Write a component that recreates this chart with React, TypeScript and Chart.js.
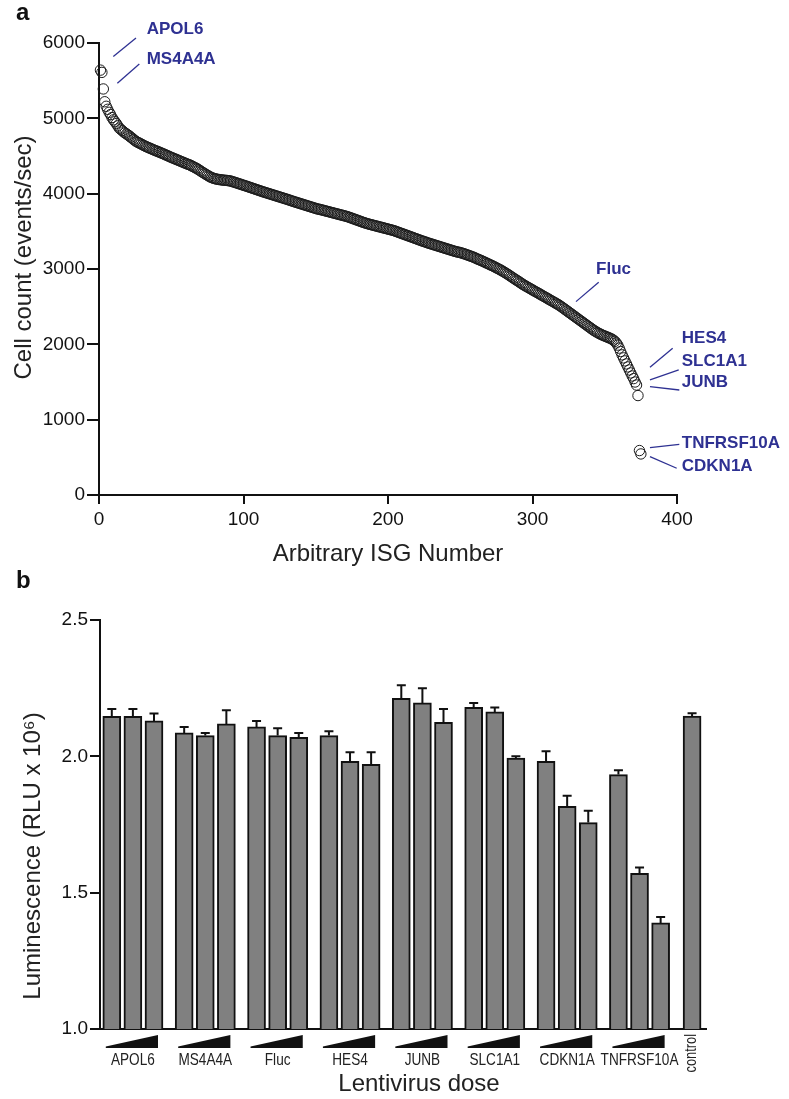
import React, { useEffect, useRef } from 'react';
import { Chart, registerables } from 'chart.js';

Chart.register(...registerables);

// ---------- Panel a: cell counts per ISG (sorted) ----------
const isgCellCounts: number[] = [
  5640, 5610, 5390, 5220, 5160, 5120, 5080, 5050, 5010, 4980,
  4955, 4930, 4900, 4870, 4855, 4838, 4820, 4806, 4793, 4780,
  4765, 4750, 4735, 4718, 4703, 4690, 4680, 4670, 4661, 4650,
  4640, 4630, 4622, 4613, 4605, 4597, 4588, 4580, 4572, 4565,
  4557, 4549, 4541, 4533, 4525, 4516, 4508, 4499, 4490, 4482,
  4474, 4466, 4458, 4450, 4442, 4434, 4426, 4418, 4410, 4402,
  4394, 4387, 4380, 4370, 4360, 4350, 4340, 4330, 4318, 4305,
  4292, 4280, 4268, 4256, 4244, 4233, 4222, 4213, 4206, 4200,
  4195, 4191, 4188, 4185, 4182, 4180, 4178, 4176, 4174, 4172,
  4168, 4162, 4156, 4150, 4144, 4137, 4131, 4125, 4118, 4112,
  4106, 4100, 4093, 4087, 4080, 4074, 4067, 4061, 4054, 4048,
  4041, 4035, 4028, 4022, 4016, 4010, 4004, 3998, 3992, 3986,
  3980, 3974, 3968, 3962, 3956, 3950, 3944, 3938, 3932, 3926,
  3920, 3913, 3907, 3900, 3894, 3888, 3882, 3876, 3870, 3864,
  3858, 3852, 3846, 3840, 3834, 3828, 3822, 3816, 3810, 3804,
  3798, 3794, 3790, 3785, 3780, 3775, 3770, 3765, 3760, 3755,
  3750, 3745, 3740, 3735, 3730, 3725, 3720, 3715, 3710, 3705,
  3700, 3694, 3688, 3681, 3674, 3667, 3660, 3653, 3646, 3639,
  3632, 3625, 3618, 3612, 3606, 3600, 3595, 3590, 3585, 3580,
  3575, 3570, 3565, 3560, 3555, 3550, 3545, 3540, 3535, 3530,
  3525, 3520, 3515, 3510, 3503, 3496, 3489, 3482, 3475, 3468,
  3461, 3454, 3447, 3440, 3433, 3426, 3419, 3412, 3405, 3398,
  3391, 3384, 3377, 3370, 3364, 3358, 3350, 3344, 3338, 3332,
  3326, 3320, 3314, 3308, 3302, 3296, 3290, 3284, 3278, 3272,
  3266, 3260, 3254, 3248, 3242, 3236, 3231, 3226, 3222, 3218,
  3212, 3206, 3200, 3193, 3186, 3179, 3172, 3165, 3158, 3151,
  3140, 3132, 3124, 3116, 3108, 3099, 3090, 3081, 3072, 3063,
  3054, 3045, 3036, 3026, 3016, 3006, 2996, 2986, 2975, 2964,
  2952, 2940, 2928, 2915, 2902, 2889, 2876, 2863, 2851, 2839,
  2826, 2813, 2800, 2788, 2777, 2766, 2755, 2744, 2733, 2722,
  2711, 2700, 2690, 2679, 2668, 2657, 2646, 2635, 2624, 2613,
  2602, 2591, 2580, 2569, 2558, 2547, 2536, 2525, 2512, 2499,
  2485, 2471, 2457, 2443, 2429, 2415, 2401, 2387, 2373, 2359,
  2345, 2331, 2317, 2303, 2289, 2275, 2261, 2247, 2233, 2219,
  2205, 2191, 2179, 2167, 2156, 2145, 2135, 2126, 2118, 2110,
  2102, 2094, 2086, 2078, 2068, 2055, 2040, 2018, 1990, 1950,
  1905, 1860, 1820, 1780, 1740, 1700, 1660, 1620, 1580, 1545,
  1500, 1460, 1320, 590, 545,
];
const isgAxisTicks = [0, 100, 200, 300, 400];
const countAxisTicks = [0, 1000, 2000, 3000, 4000, 5000, 6000];

// label text anchor and leader line, in data units of panel a
const isgAnnotationLabels = ['APOL6', 'MS4A4A', 'Fluc', 'HES4', 'SLC1A1', 'JUNB', 'TNFRSF10A', 'CDKN1A'];
const isgAnnotationText: [number, number][] = [
  [33, 6186], [33, 5790], [344, 3001], [403.3, 2081], [403.3, 1780], [403.3, 1491], [403.3, 680], [403.3, 376],
];
const isgAnnotationLines: [number, number, number, number][] = [
  [9.9, 5821, 25.6, 6065],
  [12.7, 5467, 27.9, 5720],
  [330.1, 2567, 345.8, 2825],
  [381.3, 1696, 397, 1948],
  [381.3, 1527, 401.2, 1660],
  [381.3, 1438, 401.6, 1394],
  [381.3, 628, 401.6, 673],
  [381.3, 509, 399.8, 355],
];

// ---------- Panel b: luminescence per lentivirus dose ----------
const geneGroups = ['APOL6', 'MS4A4A', 'Fluc', 'HES4', 'JUNB', 'SLC1A1', 'CDKN1A', 'TNFRSF10A'];
const doseMeans: number[][] = [
  [2.147, 2.147, 2.130],
  [2.086, 2.076, 2.119],
  [2.108, 2.076, 2.070],
  [2.076, 1.982, 1.971],
  [2.213, 2.196, 2.125],
  [2.180, 2.163, 1.994],
  [1.982, 1.817, 1.757],
  [1.933, 1.571, 1.389],
];
const doseErrors: number[][] = [
  [0.027, 0.027, 0.027],
  [0.022, 0.010, 0.050],
  [0.022, 0.027, 0.016],
  [0.016, 0.033, 0.044],
  [0.048, 0.054, 0.049],
  [0.016, 0.016, 0.006],
  [0.037, 0.038, 0.043],
  [0.016, 0.021, 0.022],
];
const controlLabel = 'control';
const controlMean = 2.148;
const controlError = 0.010;
const lumTicks = [1.0, 1.5, 2.0, 2.5];

// layout constants (bar slot units)
const GROUP_STRIDE = 3.43;
const CONTROL_X = 27.5;

const SANS = "'Liberation Sans', Arial, Helvetica, sans-serif";
const BLUE = '#2e3192';
const INK = '#111';
const CONDENSE = 0.8;

export default function App() {
  const refA = useRef<HTMLCanvasElement | null>(null);
  const refB = useRef<HTMLCanvasElement | null>(null);

  useEffect(() => {
    const annotateA = {
      id: 'annotateA',
      afterDraw(chart: any) {
        const { ctx, scales, chartArea } = chart;
        const x = scales.x;
        const y = scales.y;
        ctx.save();
        ctx.strokeStyle = BLUE;
        ctx.fillStyle = BLUE;
        ctx.lineWidth = 1.3;
        ctx.font = `bold 17px ${SANS}`;
        ctx.textAlign = 'left';
        ctx.textBaseline = 'middle';
        isgAnnotationLabels.forEach((label, k) => {
          const l = isgAnnotationLines[k];
          ctx.beginPath();
          ctx.moveTo(x.getPixelForValue(l[0]), y.getPixelForValue(l[1]));
          ctx.lineTo(x.getPixelForValue(l[2]), y.getPixelForValue(l[3]));
          ctx.stroke();
          const t = isgAnnotationText[k];
          ctx.fillText(label, x.getPixelForValue(t[0]), y.getPixelForValue(t[1]));
        });
        ctx.fillStyle = '#222';
        ctx.font = `24px ${SANS}`;
        ctx.textAlign = 'center';
        ctx.fillText('Arbitrary ISG Number', (chartArea.left + chartArea.right) / 2, chartArea.bottom + 59);
        ctx.save();
        ctx.translate(24, 257.5);
        ctx.rotate(-Math.PI / 2);
        ctx.fillText('Cell count (events/sec)', 0, 0);
        ctx.restore();
        ctx.fillStyle = INK;
        ctx.font = `bold 24px ${SANS}`;
        ctx.textAlign = 'left';
        ctx.textBaseline = 'alphabetic';
        ctx.fillText('a', 16, 19.5);
        ctx.fillText('b', 16, 588);
        ctx.restore();
      },
    };

    const chartA = new Chart(refA.current as HTMLCanvasElement, {
      type: 'scatter',
      data: {
        datasets: [
          {
            data: isgCellCounts.map((v, i) => ({ x: i + 1, y: v })),
            pointRadius: 5.2,
            pointHoverRadius: 5.2,
            pointBorderWidth: 1,
            pointBorderColor: '#1a1a1a',
            pointBackgroundColor: 'rgba(255,255,255,0)',
            showLine: false,
            clip: false as any,
          },
        ],
      },
      options: {
        responsive: false,
        animation: false,
        events: [],
        layout: { padding: { left: 0, top: 43, right: 112, bottom: 0 } },
        plugins: { legend: { display: false }, tooltip: { enabled: false } },
        scales: {
          x: {
            type: 'linear',
            min: 0,
            max: 400,
            afterFit: (s: any) => { s.height = 105; },
            afterBuildTicks: (s: any) => { s.ticks = isgAxisTicks.map((v) => ({ value: v })); },
            ticks: { font: { family: SANS, size: 19 }, color: INK, padding: 4, maxRotation: 0, callback: (v: any) => String(v) },
            grid: { display: true, drawOnChartArea: false, drawTicks: true, tickLength: 9, color: INK, lineWidth: 2 },
            border: { display: true, color: INK, width: 2 },
          },
          y: {
            type: 'linear',
            min: 0,
            max: 6000,
            afterFit: (s: any) => { s.width = 99; },
            afterBuildTicks: (s: any) => { s.ticks = countAxisTicks.map((v) => ({ value: v })); },
            ticks: { font: { family: SANS, size: 19 }, color: INK, padding: 2, callback: (v: any) => String(v) },
            grid: { display: true, drawOnChartArea: false, drawTicks: true, tickLength: 12, color: INK, lineWidth: 2 },
            border: { display: true, color: INK, width: 2 },
          },
        },
      },
      plugins: [annotateA],
    } as any);

    const barEntries: { x: number; y: number; err: number }[] = [];
    geneGroups.forEach((_, gi) => {
      doseMeans[gi].forEach((m, di) => {
        barEntries.push({ x: gi * GROUP_STRIDE + di, y: m, err: doseErrors[gi][di] });
      });
    });
    barEntries.push({ x: CONTROL_X, y: controlMean, err: controlError });

    const decorateB = {
      id: 'decorateB',
      afterDatasetsDraw(chart: any) {
        const { ctx, scales } = chart;
        const y = scales.y;
        const meta = chart.getDatasetMeta(0);
        ctx.save();
        ctx.strokeStyle = INK;
        ctx.lineWidth = 2;
        meta.data.forEach((el: any, k: number) => {
          const e = barEntries[k];
          const top = y.getPixelForValue(e.y + e.err);
          ctx.beginPath();
          ctx.moveTo(el.x, el.y);
          ctx.lineTo(el.x, top);
          ctx.moveTo(el.x - 4.5, top);
          ctx.lineTo(el.x + 4.5, top);
          ctx.stroke();
        });
        ctx.restore();
      },
      afterDraw(chart: any) {
        const { ctx, scales, chartArea } = chart;
        const x = scales.x;
        const base = chartArea.bottom;
        ctx.save();
        geneGroups.forEach((g, gi) => {
          const left = x.getPixelForValue(gi * GROUP_STRIDE) - 9 + 3;
          const right = x.getPixelForValue(gi * GROUP_STRIDE + 2) + 9 - 5;
          ctx.fillStyle = INK;
          ctx.beginPath();
          ctx.moveTo(left, base + 19);
          ctx.lineTo(right, base + 19);
          ctx.lineTo(right, base + 6);
          ctx.lineTo(left, base + 17.5);
          ctx.closePath();
          ctx.fill();
          ctx.save();
          ctx.translate(x.getPixelForValue(gi * GROUP_STRIDE + 1), base + 31);
          ctx.scale(CONDENSE, 1);
          ctx.font = `17px ${SANS}`;
          ctx.textAlign = 'center';
          ctx.textBaseline = 'middle';
          ctx.fillStyle = '#222';
          ctx.fillText(g, 0, 0);
          ctx.restore();
        });
        ctx.save();
        ctx.fillStyle = '#222';
        ctx.font = `16px ${SANS}`;
        ctx.translate(x.getPixelForValue(CONTROL_X), base + 5);
        ctx.rotate(-Math.PI / 2);
        ctx.scale(CONDENSE, 1);
        ctx.textAlign = 'right';
        ctx.textBaseline = 'middle';
        ctx.fillText(controlLabel, 0, 0);
        ctx.restore();
        ctx.fillStyle = '#222';
        ctx.font = `24px ${SANS}`;
        ctx.textAlign = 'center';
        ctx.textBaseline = 'middle';
        ctx.fillText('Lentivirus dose', 419, base + 55);
        ctx.save();
        ctx.translate(33, 256);
        ctx.rotate(-Math.PI / 2);
        ctx.fillText('Luminescence (RLU x 10\u2076)', 0, 0);
        ctx.restore();
        ctx.restore();
      },
    };

    const chartB = new Chart(refB.current as HTMLCanvasElement, {
      type: 'bar',
      data: {
        datasets: [
          {
            data: barEntries.map((e) => ({ x: e.x, y: e.y })),
            backgroundColor: '#808080',
            borderColor: INK,
            borderWidth: 2,
            borderSkipped: 'bottom',
            barThickness: 18,
          },
        ],
      },
      options: {
        responsive: false,
        animation: false,
        events: [],
        layout: { padding: { left: 0, top: 20, right: 83, bottom: 0 } },
        plugins: { legend: { display: false }, tooltip: { enabled: false } },
        scales: {
          x: {
            type: 'linear',
            min: -0.559,
            max: 28.16,
            offset: false,
            afterFit: (s: any) => { s.height = 70; },
            ticks: { display: false },
            grid: { display: false },
            border: { display: true, color: INK, width: 2 },
          },
          y: {
            type: 'linear',
            min: 1.0,
            max: 2.5,
            afterFit: (s: any) => { s.width = 100; },
            afterBuildTicks: (s: any) => { s.ticks = lumTicks.map((v) => ({ value: v })); },
            ticks: { font: { family: SANS, size: 19 }, color: INK, padding: 2, callback: (v: any) => Number(v).toFixed(1) },
            grid: { display: true, drawOnChartArea: false, drawTicks: true, tickLength: 10, color: INK, lineWidth: 2 },
            border: { display: true, color: INK, width: 2 },
          },
        },
      },
      plugins: [decorateB],
    } as any);

    return () => {
      chartA.destroy();
      chartB.destroy();
    };
  }, []);

  return (
    <div style={{ position: 'absolute', left: 0, top: 0, width: 789, height: 1099, background: '#fff' }}>
      <canvas ref={refA} width={789} height={600} style={{ position: 'absolute', left: 0, top: 0, display: 'block' }} />
      <canvas ref={refB} width={789} height={499} style={{ position: 'absolute', left: 0, top: 600, display: 'block' }} />
    </div>
  );
}
